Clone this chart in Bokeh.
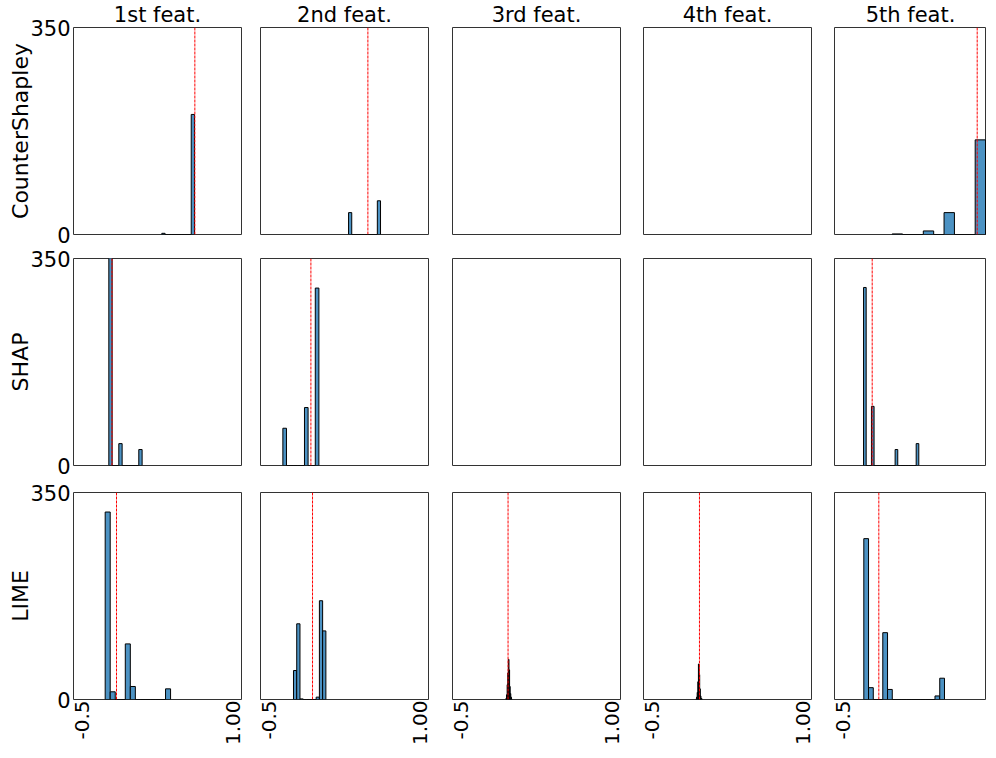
import math
from bokeh.plotting import figure
from bokeh.models import Range1d, FixedTicker, CustomJSTickFormatter, Spacer
from bokeh.layouts import column, row
from bokeh.embed import file_html
from bokeh.resources import INLINE

# ---------------- data ----------------
methods = ["CounterShapley", "SHAP", "LIME"]
features = ["1st feat.", "2nd feat.", "3rd feat.", "4th feat.", "5th feat."]
x_ticks = [-0.5, 1.0]
x_tick_labels = ["-0.5", "1.00"]
y_ticks = [0, 350]
y_tick_labels = ["0", "350"]

# histogram per feature: first bin edge, bin width, counts; ref = red dashed line value
counter_start = [0.2925, 0.290, None, None, -0.010]
counter_width = [0.0323, 0.0316, None, None, 0.1025]
counter_counts = [
    [2, 0, 0, 0, 0, 0, 0, 0, 0, 203],
    [37, 0, 0, 0, 0, 0, 0, 0, 0, 57],
    [],
    [],
    [1, 0, 0, 6, 0, 37, 0, 0, 160, 0],
]
counter_ref = [0.619, 0.481, None, None, 0.830]

shap_start = [-0.231, -0.359, None, None, -0.293]
shap_width = [0.0329, 0.0356, None, None, 0.026]
shap_counts = [
    [380, 0, 0, 37, 0, 0, 0, 0, 0, 27],
    [63, 0, 0, 0, 0, 0, 98, 0, 0, 300],
    [],
    [],
    [301, 0, 0, 100, 0, 0, 0, 0, 0, 0, 0, 0, 27, 0, 0, 0, 0, 0, 0, 0, 37],
]
shap_ref = [-0.200, -0.082, None, None, -0.2075]

lime_start = [-0.267, -0.254, -0.052, -0.062, -0.2905]
lime_width = [0.0497, 0.032, 0.0060, 0.0062, 0.0469]
lime_counts = [
    [317, 13, 0, 0, 94, 22, 0, 0, 0, 0, 0, 0, 18],
    [49, 128, 1, 0, 0, 0, 0, 4, 167, 116],
    [2, 8, 25, 45, 68, 50, 22, 10, 4, 1],
    [1, 4, 12, 30, 60, 42, 18, 6, 2, 1],
    [272, 20, 0, 0, 113, 17, 0, 0, 0, 0, 0, 0, 0, 0, 0, 6, 36],
]
lime_ref = [-0.155, -0.066, -0.031, -0.027, -0.142]

starts = [counter_start, shap_start, lime_start]
widths = [counter_width, shap_width, lime_width]
counts_all = [counter_counts, shap_counts, lime_counts]
refs = [counter_ref, shap_ref, lime_ref]

# ---------------- style / layout ----------------
FONT = "DejaVu Sans"
BAR = "#4c92c3"
X_MIN, X_MAX = -0.58, 1.08
Y_MIN, Y_MAX = 0, 350
FRAME_W = 168
FRAME_H = 207
LAST_W = 152
left_borders = [60, 13, 18, 17, 17]
right_borders = [6, 6, 6, 6, 0]
top_borders = [0, 12, 14]
bottom_borders = [12, 13, 0]


def make_panel(r, c):
    fw = LAST_W if c == 4 else FRAME_W
    x_end = X_MIN + (X_MAX - X_MIN) * fw / FRAME_W
    kw = dict(
        frame_width=fw, frame_height=FRAME_H,
        x_range=Range1d(X_MIN, x_end), y_range=Range1d(Y_MIN, Y_MAX),
        output_backend="svg", toolbar_location=None,
        x_axis_location="below" if r == 2 else None,
        y_axis_location="left" if c == 0 else None,
        min_border_left=left_borders[c], min_border_right=right_borders[c],
        min_border_top=top_borders[r], min_border_bottom=bottom_borders[r],
        background_fill_color="white", border_fill_color="white",
    )
    if r == 0:
        kw["title"] = features[c]
    p = figure(**kw)
    p.xgrid.visible = False
    p.ygrid.visible = False
    p.outline_line_color = "#333333"
    p.outline_line_width = 1

    if r == 0:
        p.title.align = "center"
        p.title.text_font = FONT
        p.title.text_font_size = "21px"
        p.title.text_font_style = "normal"
        p.title.text_color = "black"
        p.title.standoff = 1
        p.title.offset = 0

    if c == 0:
        ax = p.yaxis[0]
        ax.ticker = FixedTicker(ticks=y_ticks)
        ax.major_label_overrides = {t: s for t, s in zip(y_ticks, y_tick_labels)}
        ax.axis_label = methods[r]
        ax.axis_label_text_font = FONT
        ax.axis_label_text_font_size = "22px"
        ax.axis_label_text_font_style = "normal"
        ax.axis_label_text_color = "black"
        ax.axis_label_standoff = -6
        ax.major_label_text_font = FONT
        ax.major_label_text_font_size = "21px"
        ax.major_label_text_color = "black"
        ax.major_label_standoff = 3
        ax.major_tick_out = 0
        ax.major_tick_in = 0
        ax.minor_tick_out = 0
        ax.minor_tick_in = 0
        ax.axis_line_color = None

    if r == 2:
        ax = p.xaxis[0]
        ax.ticker = FixedTicker(ticks=x_ticks)
        ax.formatter = CustomJSTickFormatter(
            args=dict(xt=x_ticks, xl=x_tick_labels),
            code="for (let i = 0; i < xt.length; i++) { if (Math.abs(xt[i] - tick) < 1e-9) return xl[i]; } return '';",
        )
        ax.major_label_orientation = math.pi / 2
        ax.major_label_text_font = FONT
        ax.major_label_text_font_size = "20px"
        ax.major_label_text_color = "black"
        ax.major_label_standoff = 1
        ax.major_tick_out = 0
        ax.major_tick_in = 0
        ax.minor_tick_out = 0
        ax.minor_tick_in = 0
        ax.axis_line_color = None

    cnts = counts_all[r][c]
    if cnts:
        s = starts[r][c]
        w = widths[r][c]
        lefts = [s + i * w for i in range(len(cnts))]
        rights = [s + (i + 1) * w for i in range(len(cnts))]
        p.quad(left=lefts, right=rights, bottom=0, top=cnts,
               fill_color=BAR, line_color="black", line_width=1)
    ref = refs[r][c]
    if ref is not None:
        p.segment(x0=[ref], y0=[Y_MIN], x1=[ref], y1=[Y_MAX],
                  line_color="#ff0000", line_width=1, line_dash="3 1")
    return p


rows = []
for r in range(3):
    rows.append(row(*[make_panel(r, c) for c in range(5)], spacing=0))
grid = column(*rows, spacing=0)
layout = row(Spacer(width=5, height=10), grid, spacing=0)

open("out.html", "w").write(file_html(layout, INLINE))
